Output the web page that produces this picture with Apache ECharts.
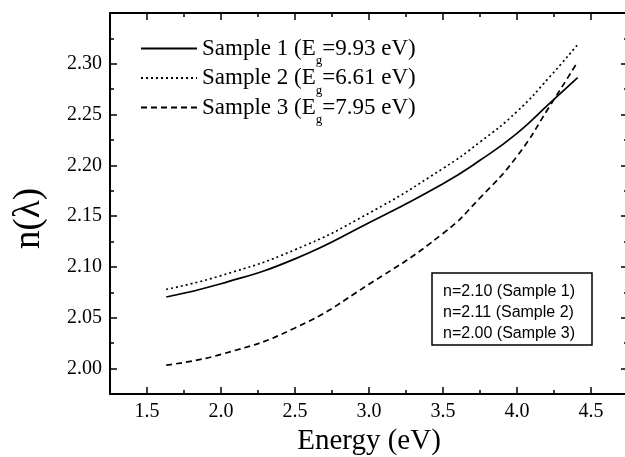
<!DOCTYPE html>
<html>
<head>
<meta charset="utf-8">
<script src="https://cdn.jsdelivr.net/npm/echarts@6/dist/echarts.min.js"></script>
<style>
html, body { margin: 0; padding: 0; background: #fff; }
#chart { width: 625px; height: 457px; }
</style>
</head>
<body>
<div id="chart"></div>
<script>
// values
var energy = [1.63, 2.0, 2.5, 3.0, 3.5, 3.75, 4.0, 4.22, 4.41];
var sample1 = [2.0705, 2.0835, 2.108, 2.1435, 2.182, 2.205, 2.2315, 2.261, 2.2865];
var sample2 = [2.078, 2.0915, 2.117, 2.153, 2.197, 2.223, 2.253, 2.287, 2.319];
var sample3 = [2.0035, 2.014, 2.040, 2.083, 2.133, 2.168, 2.209, 2.258, 2.302];
var seriesNames = ['Sample 1', 'Sample 2', 'Sample 3'];
var gapValues = ['9.93', '6.61', '7.95'];
var boxLines = ['n=2.10 (Sample 1)', 'n=2.11 (Sample 2)', 'n=2.00 (Sample 3)'];

var serif = 'Liberation Serif';
var xMin = 1.25, xMax = 4.75;
var yMin = 1.975, yMax = 2.35;

function pairs(ys) {
    return energy.map(function (x, i) { return [x, ys[i]]; });
}

// long ticks + labels (grid 0)
function majorAxis(pos, min, max, showLabel, digits) {
    return {
        type: 'value',
        gridIndex: 0,
        position: pos,
        min: min,
        max: max,
        splitNumber: 7,
        axisLine: { show: true, onZero: false, lineStyle: { color: '#000', width: 2 } },
        axisTick: { show: true, inside: true, length: 7, lineStyle: { color: '#000', width: 1.5 } },
        axisLabel: {
            show: showLabel, color: '#000', fontFamily: serif, fontSize: 20, margin: 8,
            showMinLabel: false, showMaxLabel: false,
            formatter: function (v) { return '{t|' + v.toFixed(digits) + '}'; },
            rich: { t: { fontFamily: serif, fontSize: 20, color: '#000' } }
        },
        splitLine: { show: false }
    };
}

// short ticks only (grid 1, same box)
function minorAxis(pos, min, max, step) {
    return {
        type: 'value',
        gridIndex: 1,
        position: pos,
        min: min,
        max: max,
        interval: step,
        axisLine: { show: false, onZero: false },
        axisTick: { show: true, inside: true, length: 4, lineStyle: { color: '#000', width: 1.5 } },
        axisLabel: { show: false },
        splitLine: { show: false }
    };
}

var chart = echarts.init(document.getElementById('chart'));

var xBottom = majorAxis('bottom', xMin, xMax, true, 1);
xBottom.name = 'Energy (eV)';
xBottom.nameLocation = 'middle';
xBottom.nameGap = 31;
xBottom.nameTextStyle = { color: '#000', fontFamily: serif, fontSize: 29 };

var yLeft = majorAxis('left', yMin, yMax, true, 2);
yLeft.name = 'n(λ)';
yLeft.nameLocation = 'middle';
yLeft.nameGap = 62;
yLeft.nameTextStyle = { color: '#000', fontFamily: serif, fontSize: 37, padding: [0, 30, 0, 0] };

var dashes = ['solid', [2, 3], [6, 4]];
var values = [sample1, sample2, sample3];
var box = { left: 110, top: 13, width: 518, height: 381, outerBoundsMode: 'none' };

var option = {
    animation: false,
    backgroundColor: '#fff',
    textStyle: { fontFamily: serif, color: '#000' },
    grid: [box, box],
    legend: {
        orient: 'vertical',
        left: 140,
        top: 37,
        padding: 0,
        itemWidth: 56,
        itemHeight: 20,
        itemGap: -1,
        selectedMode: false,
        itemStyle: { color: 'rgba(0,0,0,0)', borderColor: 'rgba(0,0,0,0)', borderWidth: 0 },
        data: seriesNames,
        formatter: function (name) {
            var i = seriesNames.indexOf(name);
            return '{a|' + name + ' (E}{s|g}{a|=' + gapValues[i] + ' eV)}';
        },
        textStyle: {
            rich: {
                a: { fontFamily: serif, fontSize: 23, lineHeight: 23, color: '#000' },
                s: { fontFamily: serif, fontSize: 13, lineHeight: 13, color: '#000',
                     verticalAlign: 'bottom', padding: [0, 0, -7.5, 0] }
            }
        }
    },
    xAxis: [
        xBottom,
        majorAxis('top', xMin, xMax, false, 1),
        minorAxis('bottom', xMin, xMax, 0.25),
        minorAxis('top', xMin, xMax, 0.25)
    ],
    yAxis: [
        yLeft,
        majorAxis('right', yMin, yMax, false, 2),
        minorAxis('left', yMin, yMax, 0.025),
        minorAxis('right', yMin, yMax, 0.025)
    ],
    series: seriesNames.map(function (name, k) {
        return {
            name: name,
            type: 'line',
            xAxisIndex: 0,
            yAxisIndex: 0,
            smooth: true,
            symbol: 'none',
            showSymbol: false,
            color: '#000',
            lineStyle: { color: '#000', width: 1.7, type: dashes[k] },
            data: pairs(values[k])
        };
    }),
    graphic: [
        {
            type: 'rect',
            shape: { x: 432, y: 273, width: 160, height: 72 },
            style: { fill: '#fff', stroke: '#000', lineWidth: 1.5 },
            z: 10
        },
        {
            type: 'text',
            x: 443,
            y: 281,
            z: 11,
            style: {
                text: boxLines.join('\n'),
                fontFamily: 'Liberation Sans',
                fontSize: 16,
                lineHeight: 21,
                fill: '#000',
                verticalAlign: 'top'
            }
        }
    ]
};

chart.setOption(option);
window.onresize = chart.resize;
</script>
</body>
</html>
